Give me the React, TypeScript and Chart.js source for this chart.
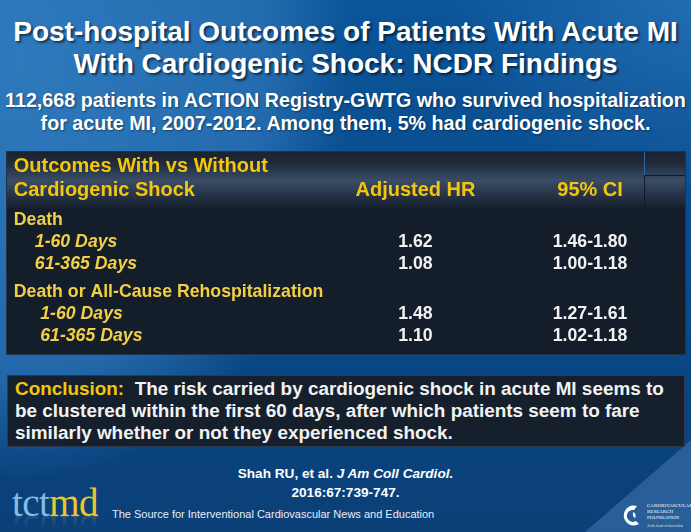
import { useEffect, useRef } from 'react';
import { Chart, registerables } from 'chart.js';

Chart.register(...registerables);

// ---------- data ----------
const titleLines = ['Post-hospital Outcomes of Patients With Acute MI', 'With Cardiogenic Shock: NCDR Findings'];
const subtitleLines = [
  '112,668 patients in ACTION Registry-GWTG who survived hospitalization',
  'for acute MI, 2007-2012. Among them, 5% had cardiogenic shock.',
];
const headerLines = ['Outcomes With vs Without', 'Cardiogenic Shock'];
const columnHeaders = ['Adjusted HR', '95% CI'];
const outcomeGroups = ['Death', 'Death or All-Cause Rehospitalization'];
const periods = ['1-60 Days', '61-365 Days'];
const adjustedHR = ['1.62', '1.08', '1.48', '1.10'];
const ciLow = ['1.46', '1.00', '1.27', '1.02'];
const ciHigh = ['1.80', '1.18', '1.61', '1.18'];
const conclusionLabel = 'Conclusion:';
const conclusionLines = [
  'The risk carried by cardiogenic shock in acute MI seems to',
  'be clustered within the first 60 days, after which patients seem to fare',
  'similarly whether or not they experienced shock.',
];
const citationAuthors = 'Shah RU, et al. ';
const citationJournal = 'J Am Coll Cardiol.';
const citationRef = '2016:67:739-747.';
const footerText = 'The Source for Interventional Cardiovascular News and Education';
const logoParts = ['tct', 'md'];

// ---------- style ----------
const FONT = '"Liberation Sans", Arial, Helvetica, sans-serif';
const YELLOW = '#f4c50d';
const LABEL_YELLOW = '#f2cf45';
const WHITE = '#f2f2f2';

type Row = { kind: 'group' | 'period'; text: string; group: number; idx: number };
const rows: Row[] = [];
outcomeGroups.forEach((g, gi) => {
  rows.push({ kind: 'group', text: g, group: gi, idx: -1 });
  periods.forEach((p, pi) => rows.push({ kind: 'period', text: p, group: gi, idx: gi * periods.length + pi }));
});
const GROUP_GAP = 0.27;
const rowPos = rows.map((r, i) => i + r.group * GROUP_GAP);

const tablePlugin = {
  id: 'tableText',
  afterDraw(chart: any) {
    const { ctx, chartArea } = chart;
    const xs = chart.scales.x;
    const ys = chart.scales.y;
    const xLabel = xs.getPixelForValue(1.0);
    const xIndent = [xs.getPixelForValue(4.1), xs.getPixelForValue(4.9)];
    const xHR = xs.getPixelForValue(60.25);
    const xCI = xs.getPixelForValue(86.0);
    ctx.save();
    ctx.textBaseline = 'middle';
    ctx.fillStyle = YELLOW;
    ctx.font = `bold 20px ${FONT}`;
    ctx.textAlign = 'left';
    ctx.fillText(headerLines[0], xLabel, chartArea.top - 43);
    ctx.fillText(headerLines[1], xLabel, chartArea.top - 19);
    ctx.textAlign = 'center';
    ctx.fillText(columnHeaders[0], xHR, chartArea.top - 19);
    ctx.fillText(columnHeaders[1], xCI, chartArea.top - 19);

    rows.forEach((r, i) => {
      const y = ys.getPixelForValue(rowPos[i]);
      if (r.kind === 'group') {
        ctx.font = `bold 17.7px ${FONT}`;
        ctx.fillStyle = LABEL_YELLOW;
        ctx.textAlign = 'left';
        ctx.fillText(r.text, xLabel, y);
      } else {
        ctx.font = `italic bold 17.7px ${FONT}`;
        ctx.fillStyle = LABEL_YELLOW;
        ctx.textAlign = 'left';
        ctx.fillText(r.text, xIndent[r.group], y);
        ctx.font = `bold 17.7px ${FONT}`;
        ctx.fillStyle = WHITE;
        ctx.textAlign = 'center';
        ctx.fillText(adjustedHR[r.idx], xHR, y);
        ctx.fillText(`${ciLow[r.idx]}-${ciHigh[r.idx]}`, xCI, y);
      }
    });
    ctx.restore();
  },
};

function TableChart() {
  const ref = useRef<HTMLCanvasElement | null>(null);
  useEffect(() => {
    if (!ref.current) return;
    const chart = new Chart(ref.current, {
      type: 'scatter',
      data: { datasets: [] },
      options: {
        animation: false,
        responsive: true,
        maintainAspectRatio: false,
        events: [],
        layout: { padding: { top: 57, bottom: 7, left: 0, right: 0 } },
        plugins: { legend: { display: false }, tooltip: { enabled: false } },
        scales: {
          x: { type: 'linear', min: 0, max: 100, display: false },
          y: { type: 'linear', min: -0.5, max: rowPos[rowPos.length - 1] + 0.5, reverse: true, display: false },
        },
      },
      plugins: [tablePlugin],
    });
    return () => chart.destroy();
  }, []);
  return (
    <div style={{ position: 'absolute', left: 0, top: 0, width: 678, height: 202 }}>
      <canvas ref={ref} />
    </div>
  );
}

function Logo({ reflect }: { reflect?: boolean }) {
  return (
    <div
      style={{
        position: 'absolute',
        left: 12,
        top: reflect ? 510 : 483,
        fontFamily: '"Liberation Serif", "Times New Roman", serif',
        fontSize: 39,
        lineHeight: '39px',
        whiteSpace: 'nowrap',
        letterSpacing: -0.6,
        transform: reflect ? 'scaleY(-1)' : undefined,
        opacity: reflect ? 0.22 : 1,
        WebkitMaskImage: reflect ? 'linear-gradient(to bottom, transparent 55%, #000 90%)' : undefined,
        maskImage: reflect ? 'linear-gradient(to bottom, transparent 55%, #000 90%)' : undefined,
      }}
    >
      <span style={{ color: '#82bbe7' }}>{logoParts[0]}</span>
      <span style={{ color: '#eec52c' }}>{logoParts[1]}</span>
    </div>
  );
}

export default function App() {
  const shadow = '2px 2px 2px rgba(0,0,0,0.55)';
  return (
    <div
      style={{
        position: 'fixed',
        left: 0,
        top: 0,
        width: 691,
        height: 532,
        overflow: 'hidden',
        fontFamily: FONT,
        background: 'linear-gradient(180deg, #0a5499 0%, #0a4c8d 45%, #0b3f77 100%)',
      }}
    >
      {/* background swooshes */}
      <div
        style={{
          position: 'absolute',
          inset: 0,
          background:
            'radial-gradient(ellipse 330px 420px at 20px 60px, rgba(52,128,195,0.85) 0%, rgba(45,118,185,0.7) 75%, rgba(45,118,185,0) 100%)',
        }}
      />
      <div
        style={{
          position: 'absolute',
          inset: 0,
          background:
            'radial-gradient(ellipse 260px 200px at 700px 0px, rgba(50,125,195,0.6) 0%, rgba(50,125,195,0) 100%)',
        }}
      />
      <div
        style={{
          position: 'absolute',
          inset: 0,
          background: 'rgba(60,115,175,0.6)',
          clipPath: 'polygon(691px 440px, 691px 532px, 585px 532px)',
        }}
      />

      {/* title */}
      {titleLines.map((t, i) => (
        <div
          key={t}
          style={{
            position: 'absolute',
            left: 0,
            width: 691,
            top: 16 + i * 32,
            textAlign: 'center',
            color: '#ffffff',
            fontWeight: 'bold',
            fontSize: 28,
            lineHeight: '32px',
            whiteSpace: 'nowrap',
            textShadow: shadow,
          }}
        >
          {t}
        </div>
      ))}
      {subtitleLines.map((t, i) => (
        <div
          key={t}
          style={{
            position: 'absolute',
            left: 0,
            width: 691,
            top: 89 + i * 23,
            textAlign: 'center',
            color: '#ffffff',
            fontWeight: 'bold',
            fontSize: 19.7,
            lineHeight: '23px',
            whiteSpace: 'nowrap',
            textShadow: '1px 1px 2px rgba(0,0,0,0.45)',
          }}
        >
          {t}
        </div>
      ))}

      {/* table */}
      <div
        style={{
          position: 'absolute',
          left: 7,
          top: 152,
          width: 678,
          height: 202,
          background: '#141d2a',
          boxShadow: '0 0 0 1px #22324a',
        }}
      >
        <div
          style={{
            position: 'absolute',
            left: 0,
            top: 0,
            width: 678,
            height: 55,
            background:
              'linear-gradient(180deg, #1b2331 0%, #1e2836 18%, #2f4057 40%, #3a4c65 52%, #2a394e 72%, #18212e 100%)',
          }}
        />
        <div style={{ position: 'absolute', left: 637, top: 0, width: 1, height: 23, background: '#2d6aa0' }} />
        <div style={{ position: 'absolute', left: 637, top: 23, width: 1, height: 32, background: '#121a25' }} />
        <div style={{ position: 'absolute', left: 637, top: 23, width: 41, height: 1, background: '#121a25' }} />
        <TableChart />
      </div>

      {/* conclusion */}
      <div
        style={{
          position: 'absolute',
          left: 7,
          top: 375,
          width: 676,
          height: 70,
          background: '#16202d',
          border: '1px solid #2a3a50',
        }}
      >
        {conclusionLines.map((t, i) => (
          <div
            key={t}
            style={{
              position: 'absolute',
              left: 7,
              top: 2 + i * 22,
              fontSize: 18.9,
              lineHeight: '22px',
              fontWeight: 'bold',
              color: WHITE,
              whiteSpace: 'pre',
            }}
          >
            {i === 0 ? (
              <>
                <span style={{ color: YELLOW }}>{conclusionLabel}</span>
                {'  ' + t}
              </>
            ) : (
              t
            )}
          </div>
        ))}
      </div>

      {/* citation */}
      <div
        style={{
          position: 'absolute',
          left: 0,
          width: 691,
          top: 464,
          textAlign: 'center',
          color: '#ffffff',
          fontWeight: 'bold',
          fontSize: 13.6,
          lineHeight: '19px',
        }}
      >
        <div>
          {citationAuthors}
          <i>{citationJournal}</i>
        </div>
        <div>{citationRef}</div>
      </div>

      {/* tctmd logo */}
      <Logo reflect />
      <Logo />
      <div
        style={{
          position: 'absolute',
          left: 112,
          top: 507,
          fontSize: 11,
          lineHeight: '14px',
          color: '#e8eef5',
          whiteSpace: 'nowrap',
        }}
      >
        {footerText}
      </div>

      {/* CRF logo */}
      <svg style={{ position: 'absolute', left: 620, top: 502 }} width={26} height={27} viewBox="0 0 26 27">
        <path d="M17 4 A10 10 0 1 0 19 22 L16 19 A6 6 0 1 1 14 8 Z" fill="#ffffff" />
        <path d="M13 10 A4 4 0 0 1 15 16 L13 14 Z" fill="#ffffff" />
      </svg>
      <div
        style={{
          position: 'absolute',
          left: 647,
          top: 503,
          fontFamily: '"Liberation Serif", serif',
          fontSize: 5,
          lineHeight: '6px',
          color: '#ffffff',
          whiteSpace: 'nowrap',
        }}
      >
        <div>CARDIOVASCULAR</div>
        <div>RESEARCH</div>
        <div>FOUNDATION</div>
        <div style={{ fontSize: 3.5, marginTop: 2, opacity: 0.8 }}>At the heart of innovation</div>
      </div>
    </div>
  );
}
